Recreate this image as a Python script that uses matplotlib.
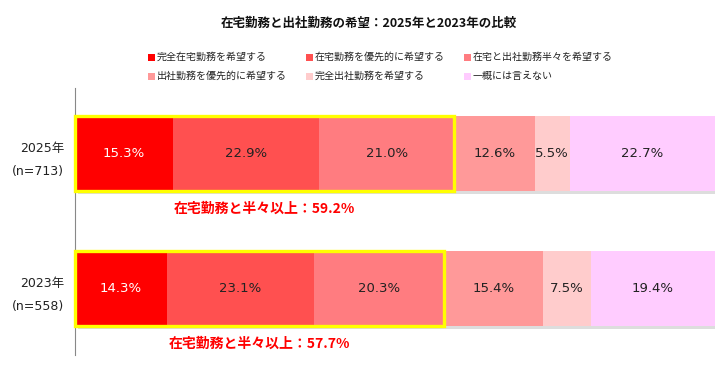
import matplotlib
matplotlib.use("Agg")
import matplotlib.pyplot as plt
import matplotlib.patheffects as pe
from matplotlib.patches import Rectangle
import numpy as np

plt.rcParams['font.family'] = ['DejaVu Sans', 'Noto Sans CJK JP']

title = "在宅勤務と出社勤務の希望：2025年と2023年の比較"
years = ["2025年\n(n=713)", "2023年\n(n=558)"]
categories = ["完全在宅勤務を希望する", "在宅勤務を優先的に希望する", "在宅と出社勤務半々を希望する",
              "出社勤務を優先的に希望する", "完全出社勤務を希望する", "一概には言えない"]
values_2025 = [15.3, 22.9, 21.0, 12.6, 5.5, 22.7]
values_2023 = [14.3, 23.1, 20.3, 15.4, 7.5, 19.4]
colors = ["#FF0000", "#FF5050", "#FF7C80", "#FF9999", "#FFCCCC", "#FFCCFF"]
label_colors = ["white", "#222222", "#222222", "#222222", "#222222", "#222222"]
annot_prefix = "在宅勤務と半々以上："

W, H = 718, 374
fig = plt.figure(figsize=(W / 100, H / 100), dpi=100)
ax = fig.add_axes([75 / W, 1 - 355 / H, 640 / W, (355 - 88) / H])

data = [values_2025, values_2023]
ypos = np.arange(len(years))
bar_h = 0.555
shadow = [pe.SimplePatchShadow(offset=(2, -2), shadow_rgbFace='#aaaaaa', alpha=0.4), pe.Normal()]

for yi, vals in zip(ypos, data):
    left = 0.0
    for v, c, lc in zip(vals, colors, label_colors):
        b = ax.barh(yi, v, left=left, height=bar_h, color=c, edgecolor='none', zorder=2)
        for p in b.patches:
            p.set_path_effects(shadow)
        ax.text(left + v / 2, yi, f"{v:.1f}%", ha='center', va='center',
                fontsize=9.5, color=lc, zorder=5)
        left += v
    s3 = sum(vals[:3])
    ax.add_patch(Rectangle((0, yi - bar_h / 2), s3, bar_h, fill=False,
                           edgecolor='#FFFF00', linewidth=2.4, zorder=4, clip_on=False))
    ax.text(s3 / 2, yi + bar_h / 2 + 0.13, f"{annot_prefix}{s3:.1f}%", ha='center', va='center',
            fontsize=10, color='#FF0000', fontweight='bold', zorder=5,
            family=['Noto Sans CJK JP', 'DejaVu Sans'])

ax.set_xlim(0, 100)
ax.set_ylim(1.493, -0.485)
ax.set_yticks(ypos)
ax.set_yticklabels(years, fontsize=9, linespacing=2.0, color='#222222')
ax.tick_params(axis='y', length=0, pad=8)
ax.set_xticks([])
for s in ['top', 'right', 'bottom']:
    ax.spines[s].set_visible(False)
ax.spines['left'].set_color('#888888')
ax.spines['left'].set_linewidth(0.8)

fig.text(369 / W, 1 - 23 / H, title, ha='center', va='center', fontsize=9, fontweight='bold',
         family=['Noto Sans CJK JP', 'DejaVu Sans'], color='#111111')

# legend
col_x = [148, 306, 464]
row_y = [57, 76]
sq = 7
for i, (cat, c) in enumerate(zip(categories, colors)):
    x = col_x[i % 3]
    y = row_y[i // 3]
    fig.patches.append(Rectangle((x / W, 1 - (y + sq / 2) / H), sq / W, sq / H,
                                 transform=fig.transFigure, facecolor=c, edgecolor='none'))
    fig.text((x + sq + 2) / W, 1 - y / H, cat, ha='left', va='center', fontsize=7.2,
             family=['Noto Sans CJK JP', 'DejaVu Sans'], color='#222222')

fig.savefig("out.png", dpi=100)
